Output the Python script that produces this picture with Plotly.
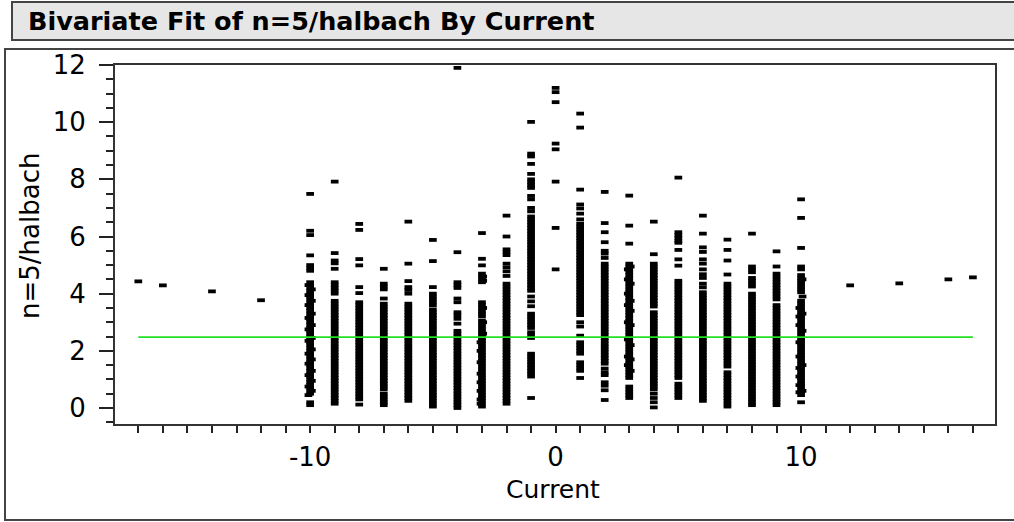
import plotly.graph_objects as go

# ---------------- data ----------------
currents_single = [-17, -16, -14, -12, 12, 14, 16, 17]
halbach_single = [4.43, 4.29, 4.08, 3.77, 4.29, 4.36, 4.50, 4.57]

y_m10 = [7.49, 6.2, 6.05, 5.34, 5.0, 4.9, 4.8,
         4.4, 4.3, 4.2, 4.1, 4.0, 3.9, 3.8, 3.7, 3.6, 3.5, 3.4, 3.3, 3.2, 3.1, 3.0,
         2.9, 2.8, 2.7, 2.6, 2.5, 2.4, 2.3, 2.2, 2.1, 2.0, 1.9, 1.8, 1.7, 1.6, 1.5,
         1.4, 1.3, 1.2, 1.1, 1.0, 0.9, 0.8, 0.7, 0.6, 0.5, 0.2, 0.1]
y_m10_left = [4.3, 3.95, 3.6, 3.15, 2.75, 2.35, 1.9, 1.55, 1.15, 0.75, 0.45]
y_m10_right = [4.15, 3.75, 3.3, 2.9, 2.45, 2.05, 1.7, 1.3, 0.95, 0.6]

y_m9 = [7.92, 5.42, 5.16, 5.06, 4.87, 4.4, 4.3, 4.2, 4.1, 4.0,
        3.75, 3.65, 3.55, 3.45, 3.35, 3.25, 3.15, 3.05, 2.95, 2.85, 2.75, 2.65,
        2.55, 2.45, 2.35, 2.25, 2.15, 2.05, 1.95, 1.85, 1.75, 1.65, 1.55, 1.45,
        1.35, 1.25, 1.15, 1.05, 0.95, 0.85, 0.75, 0.65, 0.55, 0.45, 0.35, 0.25, 0.15]

y_m8 = [6.44, 6.23, 5.21, 4.99, 4.23, 4.02,
        3.7, 3.6, 3.5, 3.4, 3.3, 3.2, 3.1, 3.0, 2.9, 2.8, 2.7, 2.6, 2.5, 2.4, 2.3,
        2.2, 2.1, 2.0, 1.9, 1.8, 1.7, 1.6, 1.5, 1.4, 1.3, 1.2, 1.1, 1.0, 0.9, 0.8,
        0.7, 0.6, 0.5, 0.4, 0.3, 0.12]

y_m7 = [4.87, 4.35, 4.25, 4.15, 3.83,
        3.65, 3.55, 3.45, 3.35, 3.25, 3.15, 3.05, 2.95, 2.85, 2.75, 2.65, 2.55,
        2.45, 2.35, 2.25, 2.15, 2.05, 1.95, 1.85, 1.75, 1.65, 1.55, 1.45, 1.35,
        1.25, 1.15, 1.05, 0.95, 0.85, 0.75, 0.65, 0.5, 0.4, 0.3, 0.2, 0.1]

y_m6 = [6.52, 5.05, 4.44, 4.23, 4.13, 4.0,
        3.65, 3.55, 3.45, 3.35, 3.25, 3.15, 3.05, 2.95, 2.85, 2.75, 2.65, 2.55,
        2.45, 2.35, 2.25, 2.15, 2.05, 1.95, 1.85, 1.75, 1.65, 1.55, 1.45, 1.35,
        1.25, 1.15, 1.05, 0.95, 0.85, 0.75, 0.65, 0.55, 0.45, 0.35, 0.25]

y_m5 = [5.88, 5.14, 4.23, 4.0, 3.9, 3.8, 3.7, 3.6,
        3.45, 3.35, 3.25, 3.15, 3.05, 2.95, 2.85, 2.75, 2.65, 2.55, 2.45, 2.35,
        2.25, 2.15, 2.05, 1.95, 1.85, 1.75, 1.65, 1.55, 1.45, 1.35, 1.25, 1.15,
        1.05, 0.95, 0.85, 0.75, 0.65, 0.55, 0.45, 0.35, 0.25, 0.15, 0.05]

y_m4 = [11.9, 5.45, 4.4, 4.3, 4.2, 3.83, 3.7, 3.35, 3.25, 3.12, 2.95,
        2.7, 2.6, 2.5, 2.4, 2.3, 2.2, 2.1, 2.0, 1.9, 1.8, 1.7, 1.6, 1.5, 1.4,
        1.3, 1.2, 1.1, 1.0, 0.9, 0.8, 0.7, 0.6, 0.5, 0.4, 0.3, 0.2, 0.1, 0.0]

y_m3 = [6.12, 5.22, 4.99, 4.7, 4.6, 4.5, 4.4, 3.7, 3.6, 3.5, 3.4, 3.3, 3.2,
        3.05, 2.95, 2.85, 2.75, 2.65, 2.55, 2.45, 2.35, 2.25, 2.15, 2.05, 1.95,
        1.85, 1.75, 1.65, 1.55, 1.45, 1.35, 1.25, 1.15, 1.05, 0.95, 0.85, 0.75,
        0.65, 0.55, 0.45, 0.35, 0.25, 0.15, 0.05]
y_m3_left = [2.3, 2.0, 1.6, 1.2, 0.9, 0.6, 0.3, 0.15]
y_m3_right = [4.6, 4.45, 3.5, 3.0, 2.6]

y_m2 = [6.73, 6.0, 5.55, 5.45, 5.35, 5.05, 4.92, 4.78, 4.62,
        4.35, 4.25, 4.15, 4.05, 3.95, 3.85, 3.75, 3.65, 3.55, 3.45, 3.35, 3.25,
        3.15, 3.05, 2.95, 2.85, 2.75, 2.65, 2.55, 2.45, 2.35, 2.25, 2.15, 2.05,
        1.95, 1.85, 1.75, 1.65, 1.55, 1.45, 1.35, 1.25, 1.15, 1.05, 0.95, 0.85,
        0.75, 0.65, 0.55, 0.45, 0.35, 0.25, 0.15]

y_m1 = [10.01, 8.9, 8.8, 8.54, 8.19, 8.0, 7.9, 7.8, 7.7, 7.42, 7.3, 7.0, 6.88,
        6.7, 6.6, 6.5, 6.4, 6.3, 6.2, 6.1, 6.0, 5.9, 5.8, 5.7, 5.6, 5.5, 5.4,
        5.3, 5.2, 5.1, 5.0, 4.9, 4.8, 4.7, 4.6, 4.5, 4.4, 4.3, 4.2, 4.1,
        3.9, 3.73, 3.56, 3.3, 3.2, 3.1, 3.0, 2.9, 2.8, 2.65, 2.55, 2.45,
        1.9, 1.8, 1.7, 1.6, 1.5, 1.4, 1.3, 1.2, 1.1, 0.35]

y_0 = [11.2, 11.05, 10.7, 9.25, 9.05, 7.92, 6.3, 4.85]

y_1 = [10.3, 9.81, 7.64, 7.12, 6.98, 6.8, 6.6,
       6.45, 6.35, 6.25, 6.15, 6.05, 5.95, 5.85, 5.75, 5.65, 5.55, 5.45, 5.35,
       5.25, 5.15, 5.05, 4.95, 4.85, 4.75, 4.65, 4.55, 4.45, 4.35, 4.25, 4.15,
       4.05, 3.95, 3.85, 3.75, 3.65, 3.55, 3.45, 3.35, 3.25,
       3.0, 2.85, 2.53, 2.3, 2.2, 2.1, 2.0, 1.9, 1.6, 1.5, 1.4, 1.3, 1.05]

y_2 = [7.56, 6.47, 6.15, 5.8, 5.5, 5.4, 5.25,
       5.05, 4.95, 4.85, 4.75, 4.65, 4.55, 4.45, 4.35, 4.25, 4.15, 4.05, 3.95,
       3.85, 3.75, 3.65, 3.55, 3.45, 3.35, 3.25, 3.15, 3.05, 2.95, 2.85, 2.75,
       2.65, 2.55, 2.45, 2.35, 2.25, 2.15, 2.05, 1.95, 1.85, 1.75, 1.65, 1.55,
       1.38, 1.25, 1.15, 0.9, 0.78, 0.62, 0.28]

y_3 = [7.43, 6.38, 5.75,
       5.05, 4.95, 4.85, 4.75, 4.65, 4.55, 4.45, 4.35, 4.25, 4.15, 4.05, 3.95,
       3.85, 3.75, 3.65, 3.55, 3.45, 3.35, 3.25, 3.15, 3.05, 2.95, 2.85, 2.75,
       2.65, 2.55, 2.45, 2.35, 2.25, 2.15, 2.05, 1.95, 1.85, 1.75, 1.65, 1.55,
       1.45, 1.35, 1.25, 1.15, 1.05, 0.75, 0.65, 0.55, 0.45, 0.35]
y_3_left = [4.85, 4.5, 4.0, 3.6, 3.0, 2.4, 1.8, 1.5]
y_3_right = [4.95, 4.35, 3.75, 3.4, 2.9, 2.2, 1.7, 1.3]

y_4 = [6.52, 5.38,
       5.05, 4.95, 4.85, 4.75, 4.65, 4.55, 4.45, 4.35, 4.25, 4.15, 4.05, 3.95,
       3.85, 3.75, 3.65, 3.55,
       3.35, 3.25, 3.15, 3.05, 2.95, 2.85, 2.75, 2.65, 2.55, 2.45, 2.35, 2.25,
       2.15, 2.05, 1.95, 1.85, 1.75, 1.65, 1.55, 1.45, 1.35, 1.25, 1.15, 1.05,
       0.95, 0.85, 0.75, 0.65, 0.5, 0.35, 0.2, 0.02]

y_5 = [8.06, 6.15, 6.05, 5.95, 5.85, 5.78, 5.53, 5.2, 4.98,
       4.45, 4.35, 4.25, 4.15, 4.05, 3.95, 3.85, 3.75, 3.65, 3.55, 3.45, 3.35,
       3.25, 3.15, 3.05, 2.95, 2.85, 2.75, 2.65, 2.55, 2.45, 2.35, 2.25, 2.15,
       2.05, 1.95, 1.85, 1.75, 1.65, 1.55, 1.45, 1.35, 1.25, 1.15, 1.05,
       0.85, 0.75, 0.65, 0.55, 0.45, 0.35]

y_6 = [6.73, 6.1, 5.62, 5.46, 5.2, 5.05, 4.85, 4.68, 4.55, 4.35, 4.22,
       4.05, 3.95, 3.85, 3.75, 3.65, 3.55, 3.45, 3.35, 3.25, 3.15, 3.05, 2.95,
       2.85, 2.75, 2.65, 2.55, 2.45, 2.35, 2.25, 2.15, 2.05, 1.95, 1.85, 1.75,
       1.65, 1.55, 1.45, 1.35, 1.25, 1.15, 1.05, 0.95, 0.85, 0.75, 0.65, 0.55,
       0.45, 0.35, 0.25]

y_7 = [5.89, 5.53, 5.16, 4.67,
       4.35, 4.25, 4.15, 4.05, 3.95, 3.85, 3.75, 3.65, 3.55, 3.45, 3.35, 3.25,
       3.15, 3.05, 2.95, 2.85, 2.75, 2.65, 2.55, 2.45, 2.35, 2.25, 2.15, 2.05,
       1.95, 1.85, 1.75, 1.65, 1.55, 1.45,
       1.25, 1.15, 1.05, 0.95, 0.85, 0.75, 0.65, 0.55, 0.45, 0.35, 0.25, 0.15, 0.05]

y_8 = [6.1, 4.95, 4.85, 4.75, 4.55, 4.45, 4.35, 4.25,
       4.0, 3.9, 3.8, 3.7, 3.6, 3.5, 3.4, 3.3, 3.2, 3.1, 3.0, 2.9, 2.8, 2.7,
       2.6, 2.5, 2.4, 2.3, 2.2, 2.1, 2.0, 1.9, 1.8, 1.7, 1.6, 1.5, 1.4, 1.3,
       1.2, 1.1, 1.0, 0.9, 0.8, 0.7, 0.6, 0.5, 0.4, 0.3, 0.2, 0.1]

y_9 = [5.48, 4.95,
       4.7, 4.6, 4.5, 4.4, 4.3, 4.2, 4.1, 4.0, 3.9, 3.8,
       3.6, 3.5, 3.4, 3.3, 3.2, 3.1, 3.0, 2.9, 2.8, 2.7, 2.6, 2.5, 2.4, 2.3,
       2.2, 2.1, 2.0, 1.9, 1.8, 1.7, 1.6, 1.5, 1.4, 1.3, 1.2, 1.1, 1.0, 0.9,
       0.8, 0.7, 0.6, 0.5, 0.4, 0.3, 0.2, 0.1]

y_10 = [7.3, 6.65, 5.6, 4.95, 4.85,
        4.65, 4.55, 4.45, 4.35, 4.25, 4.15, 4.05,
        3.75, 3.65, 3.55, 3.45, 3.35, 3.25, 3.15, 3.05, 2.95, 2.85, 2.75, 2.65,
        2.55, 2.45, 2.35, 2.25, 2.15, 2.05, 1.95, 1.85, 1.75, 1.65, 1.55, 1.45,
        1.35, 1.25, 1.15, 1.05, 0.95, 0.85, 0.75, 0.65, 0.55, 0.45, 0.2]
y_10_left = [3.5, 3.2, 2.9, 2.3, 1.8, 1.4, 1.1, 0.8, 0.55]
y_10_right = [4.5, 3.9, 3.3, 2.7, 1.5, 0.6]

column_currents = [-10, -10.07, -9.93, -9, -8, -7, -6, -5, -4, -3, -3.06, -2.95,
                   -2, -1, 0, 1, 2, 3, 2.94, 3.06, 4, 5, 6, 7, 8, 9, 10, 9.93, 10.06]
column_values = [y_m10, y_m10_left, y_m10_right, y_m9, y_m8, y_m7, y_m6, y_m5,
                 y_m4, y_m3, y_m3_left, y_m3_right, y_m2, y_m1, y_0, y_1, y_2,
                 y_3, y_3_left, y_3_right, y_4, y_5, y_6, y_7, y_8, y_9, y_10,
                 y_10_left, y_10_right]

fit_current = [-17, 17]
fit_halbach = [2.48, 2.48]

x_tick_values = [-10, 0, 10]
x_tick_labels = ["-10", "0", "10"]
y_tick_values = [0, 2, 4, 6, 8, 10, 12]
y_long_tick_values = [0, 1, 2, 3, 4, 5, 6, 7, 8, 9, 10, 11, 12]

# ---------------- assemble ----------------
xs = list(currents_single)
ys = list(halbach_single)
for c, vals in zip(column_currents, column_values):
    xs += [c] * len(vals)
    ys += vals

W, H = 1014, 522
L, R, T, B = 115, 19, 65, 98
PW, PH = W - L - R, H - T - B
XR = [-17.95, 17.9]
YR = [-0.56, 12]


def px(x):
    return (x - L) / PW


def py(y):
    return (H - B - y) / PH


FONT = "DejaVu Sans"

fig = go.Figure()
fig.add_trace(go.Scatter(
    x=xs, y=ys, mode="markers",
    marker=dict(symbol="line-ew", size=5.5, color="black",
                line=dict(width=3.8, color="black")),
    showlegend=False, hoverinfo="x+y"))
fig.add_trace(go.Scatter(
    x=fit_current, y=fit_halbach, mode="lines",
    line=dict(color="#22e022", width=1.6), showlegend=False))

axis_common = dict(showgrid=False, zeroline=False, showline=True, linecolor="#333",
                   linewidth=2, mirror=True, ticks="outside", tickcolor="#222",
                   tickwidth=1.5, tickfont=dict(family=FONT, size=26, color="black"))

fig.update_xaxes(range=XR, tickmode="array", tickvals=x_tick_values,
                 ticktext=x_tick_labels, ticklen=7, ticklabelstandoff=2,
                 minor=dict(dtick=1, ticklen=7, tickwidth=1.5, tickcolor="#222",
                            ticks="outside", showgrid=False),
                 **axis_common)
fig.update_yaxes(range=YR, tickmode="array",
                 tickvals=y_tick_values, ticklen=14, ticklabelstandoff=8,
                 minor=dict(dtick=0.5, ticklen=7, tickwidth=1.5, tickcolor="#222",
                            ticks="outside", showgrid=False),
                 **axis_common)

shapes = [
    # outer frame
    dict(type="rect", xref="paper", yref="paper", x0=px(5), x1=px(1030),
         y0=py(520), y1=py(49), line=dict(color="#444", width=2), layer="below"),
    # title bar
    dict(type="rect", xref="paper", yref="paper", x0=px(12), x1=px(1030),
         y0=py(40), y1=py(2), line=dict(color="#444", width=2),
         fillcolor="#e6e6e6", layer="below"),
]

annotations = [
    dict(text="<b>Bivariate Fit of n=5/halbach By Current</b>", xref="paper",
         yref="paper", x=px(26), y=py(21), xanchor="left", yanchor="middle",
         showarrow=False, font=dict(family=FONT, size=25.5, color="black")),
    dict(text="Current", xref="paper", yref="paper", x=px(553), y=py(489),
         xanchor="center", yanchor="middle", showarrow=False,
         font=dict(family=FONT, size=25, color="black")),
    dict(text="n=5/halbach", xref="paper", yref="paper", x=px(30), y=py(236),
         xanchor="center", yanchor="middle", textangle=-90, showarrow=False,
         font=dict(family=FONT, size=26, color="black")),
]

fig.update_layout(
    width=W, height=H, margin=dict(l=L, r=R, t=T, b=B),
    paper_bgcolor="white", plot_bgcolor="white",
    shapes=shapes, annotations=annotations,
    # overlay axes that only draw the longer ticks
    xaxis2=dict(overlaying="x", anchor="y", side="bottom", range=XR,
                showline=False, showgrid=False, zeroline=False,
                showticklabels=False, ticks="outside", ticklen=14,
                tickwidth=1.5, tickcolor="#222", tickmode="array",
                tickvals=x_tick_values),
    yaxis2=dict(overlaying="y", anchor="x", side="left", range=YR,
                showline=False, showgrid=False, zeroline=False,
                showticklabels=False, ticks="outside", ticklen=14,
                tickwidth=1.5, tickcolor="#222", tickmode="array",
                tickvals=y_long_tick_values),
)

fig.write_html("out.html", config={"displayModeBar": False},
               post_script="document.body.style.margin='0';"
                           "document.body.style.overflow='hidden';")
